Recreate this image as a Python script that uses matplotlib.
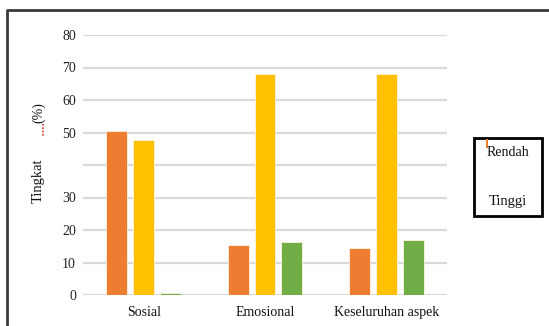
import matplotlib
matplotlib.use("Agg")
import matplotlib.pyplot as plt
import numpy as np
from matplotlib.patches import Rectangle
from matplotlib.lines import Line2D

categories = ["Sosial", "Emosional", "Keseluruhan aspek"]
series_names = ["Rendah", "Sedang", "Tinggi"]
rendah = [50.6, 15.4, 14.4]
sedang = [47.8, 67.9, 68.0]
tinggi = [0.6, 16.2, 17.0]
yticks = [0, 10, 20, 30, 40, 50, 60, 70, 80]
ytick_labels = ["0", "10", "20", "30", "", "50", "60", "70", "80"]
colors = ["#ED7D31", "#FFC000", "#70AD47"]

plt.rcParams['font.family'] = ['Liberation Serif', 'DejaVu Serif']

fig = plt.figure(figsize=(5.49, 3.26), dpi=100)
ax = fig.add_axes([83/549, 31/326, 364/549, 260/326])

x = np.arange(len(categories))
w = 0.173
off = 0.22
for i, vals in enumerate([rendah, sedang, tinggi]):
    ax.bar(x + (i - 1) * off, vals, width=w, color=colors[i],
           edgecolor="#fff3e0", linewidth=0.6, zorder=3)

ax.set_xlim(-0.5, 2.5)
ax.set_ylim(0, 80)
ax.set_yticks(yticks)
ax.set_yticklabels(ytick_labels, fontsize=10, color="#222222")
ax.set_xticks(x)
ax.set_xticklabels(categories, fontsize=10, color="#111111")
ax.tick_params(axis="both", length=0, pad=5)
ax.tick_params(axis="x", pad=8)
ax.grid(axis="y", color="#d9d9d9", linewidth=1.6, zorder=0)
for s in ax.spines.values():
    s.set_visible(False)

# y-axis label pieces
fig.text(38/549, 1 - 181/326, "Tingkat", rotation=90, ha="center", va="center",
         fontsize=10.5, color="#111111")
fig.text(39/549, 1 - 113/326, "(%)", rotation=90, ha="center", va="center",
         fontsize=10, color="#111111")
fig.add_artist(Line2D([43/549, 43/549], [1 - 124/326, 1 - 137/326],
                      color="#e03030", linewidth=1.2, linestyle=(0, (1, 1))))

# legend box
fig.add_artist(Rectangle((474/549, 1 - 216/326), 68/549, 78/326,
                         transform=fig.transFigure, fill=False,
                         edgecolor="black", linewidth=2))
fig.add_artist(Line2D([487/549, 487/549], [1 - 140/326, 1 - 147/326],
                      color=colors[0], linewidth=1.5))
fig.text(508/549, 1 - 152/326, series_names[0], ha="center", va="center",
         fontsize=10, color="#111111")
fig.text(508/549, 1 - 201/326, series_names[2], ha="center", va="center",
         fontsize=10.5, color="#111111")

# outer frame
fig.add_artist(Line2D([7/549, 7/549, 1.0], [0.0, 1 - 10/326, 1 - 10/326],
                      color="#3a3a3a", linewidth=2))

fig.savefig("out.png", dpi=100)
